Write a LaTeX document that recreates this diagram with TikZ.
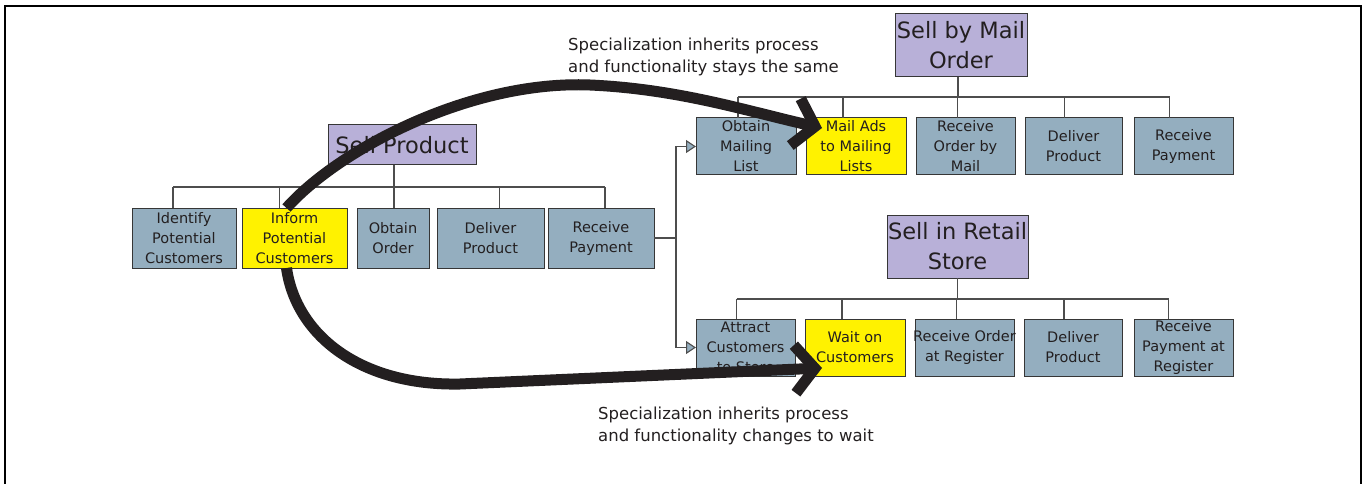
\documentclass[tikz,border=0pt]{standalone}
\usepackage{fontspec}
\setmainfont{DejaVu Sans}
\usetikzlibrary{positioning,arrows.meta}
\definecolor{taskBG}{HTML}{94AEBF}
\definecolor{taskBorder}{HTML}{363636}
\definecolor{hotBG}{HTML}{FFF200}
\definecolor{procBG}{HTML}{B8B0D8}
\definecolor{inkText}{HTML}{231F20}
\definecolor{treeLine}{HTML}{4D4D4D}

\begin{document}
\begin{tikzpicture}[x=1pt, y=1pt,
  task/.style={draw=taskBorder, fill=taskBG, line width=1pt, minimum height=60pt, inner sep=1pt, outer sep=0pt,
    align=center, text=inkText, font=\fontsize{14.5}{20}\selectfont},
  hot/.style={task, fill=hotBG},
  proc/.style={draw=taskBorder, fill=procBG, line width=1pt, inner sep=1pt, outer sep=0pt, anchor=north west,
    align=center, text=inkText, font=\fontsize{22.5}{30}\selectfont},
  tree/.style={draw=treeLine, line width=1.1pt},
  spec/.style={tree, -{Triangle[length=10pt, width=13pt, fill=taskBG]}},
  big/.style={-{Straight Barb[length=20pt, width=48pt]}, line width=11pt, draw=inkText},
  note/.style={anchor=north west, inner sep=0pt, align=left, text=inkText, font=\fontsize{16.5}{22}\selectfont},
]
  \useasboundingbox (0,0) rectangle (1366,-484);
  \draw[line width=2.5pt] (5,-484) -- (5,-6) -- (1361,-6) -- (1361,-484);

  % general process
  \node[proc, minimum width=148pt, minimum height=40pt] (sp) at (328,-125) {Sell Product};
  \node[task, minimum width=104pt, anchor=north west] (ident) at (132,-208) {Identify\\Potential\\Customers};
  \node[hot, minimum width=105pt, right=6pt of ident] (inform) {Inform\\Potential\\Customers};
  \node[task, minimum width=72pt, right=10pt of inform] (obtain) {Obtain\\Order};
  \node[task, minimum width=107pt, right=8pt of obtain] (deliver) {Deliver\\Product};
  \node[task, minimum width=106pt, right=4pt of deliver] (recvpay) {Receive\\Payment};

  % mail order specialization
  \node[proc, minimum width=132pt, minimum height=63pt] (mail) at (895,-14) {Sell by Mail\\Order};
  \node[task, minimum height=57pt, minimum width=100pt, anchor=north west] (mlist) at (696,-118) {Obtain\\Mailing\\List};
  \node[hot, minimum height=57pt, minimum width=100pt, right=10pt of mlist] (mailads) {Mail Ads\\to Mailing\\Lists};
  \node[task, minimum height=57pt, minimum width=99pt, right=10pt of mailads] (recvmail) {Receive\\Order by\\Mail};
  \node[task, minimum height=57pt, minimum width=97pt, right=10pt of recvmail] (mdeliver) {Deliver\\Product};
  \node[task, minimum height=57pt, minimum width=99pt, right=12pt of mdeliver] (mpay) {Receive\\Payment};

  % retail specialization
  \node[proc, minimum width=140pt, minimum height=63pt] (retail) at (887,-215) {Sell in Retail\\Store};
  \node[task, minimum height=57pt, minimum width=99pt, anchor=north west] (attract) at (696,-319) {Attract\\Customers\\to Store};
  \node[hot, minimum height=57pt, minimum width=100pt, right=10pt of attract] (wait) {Wait on\\Customers};
  \node[task, minimum height=57pt, minimum width=99pt, right=10pt of wait] (regorder) {\makebox[96pt]{Receive Order}\\at Register};
  \node[task, minimum height=57pt, minimum width=98pt, right=10pt of regorder] (rdeliver) {Deliver\\Product};
  \node[task, minimum height=57pt, minimum width=99pt, right=12pt of rdeliver] (rpay) {Receive\\Payment at\\Register};

  % decomposition trees
  \coordinate (bus1) at (0,-187);
  \coordinate (bus2) at (0,-97);
  \coordinate (bus3) at (0,-299);
  \draw[tree] ([xshift=-8pt]sp.south) -- ([xshift=-8pt]sp.south |- bus1);
  \draw[tree] ([xshift=-11pt]ident.north |- bus1) -- ([xshift=4pt]recvpay.north |- bus1);
  \foreach \n/\s in {ident/-11, inform/-15, obtain/1, deliver/9, recvpay/4}
    \draw[tree] ([xshift=\s pt]\n.north) -- ([xshift=\s pt]\n.north |- bus1);
  \draw[tree] ([xshift=-3pt]mail.south) -- ([xshift=-3pt]mail.south |- bus2);
  \draw[tree] ([xshift=-8pt]mlist.north |- bus2) -- ([xshift=-14pt]mpay.north |- bus2);
  \foreach \n/\s in {mlist/-8, mailads/-13, recvmail/-8, mdeliver/-9, mpay/-14}
    \draw[tree] ([xshift=\s pt]\n.north) -- ([xshift=\s pt]\n.north |- bus2);
  \draw[tree] (retail.south) -- (retail.south |- bus3);
  \draw[tree] ([xshift=-9pt]attract.north |- bus3) -- ([xshift=-15pt]rpay.north |- bus3);
  \foreach \n/\s in {attract/-9, wait/-13, regorder/-8, rdeliver/-9, rpay/-15}
    \draw[tree] ([xshift=\s pt]\n.north) -- ([xshift=\s pt]\n.north |- bus3);

  % specialization links
  \draw[tree] (recvpay.east) -- ++(22,0) coordinate (split);
  \draw[spec] (split) |- (mlist.west);
  \draw[spec] (split) |- (attract.west);

  % inheritance arrows
  \coordinate (tipA) at ([shift={(16pt,-10pt)}]mailads.north west);
  \coordinate (tipB) at ([shift={(17pt,-49pt)}]wait.north west);
  \draw[big] ([xshift=-8pt]inform.north) .. controls (338,-150) and (470,-80) .. (590,-85)
    .. controls (680,-89) and (750,-112) .. (tipA);
  \draw[big] ([xshift=-8pt]inform.south) .. controls (296,-335) and (360,-386) .. (460,-384) -- (tipB);

  \node[note] (sameNote) at (568,-38) {Specialization inherits process\\and functionality stays the same};
  \node[note] (waitNote) at (598,-407) {Specialization inherits process\\and functionality changes to wait};
\end{tikzpicture}
\end{document}
